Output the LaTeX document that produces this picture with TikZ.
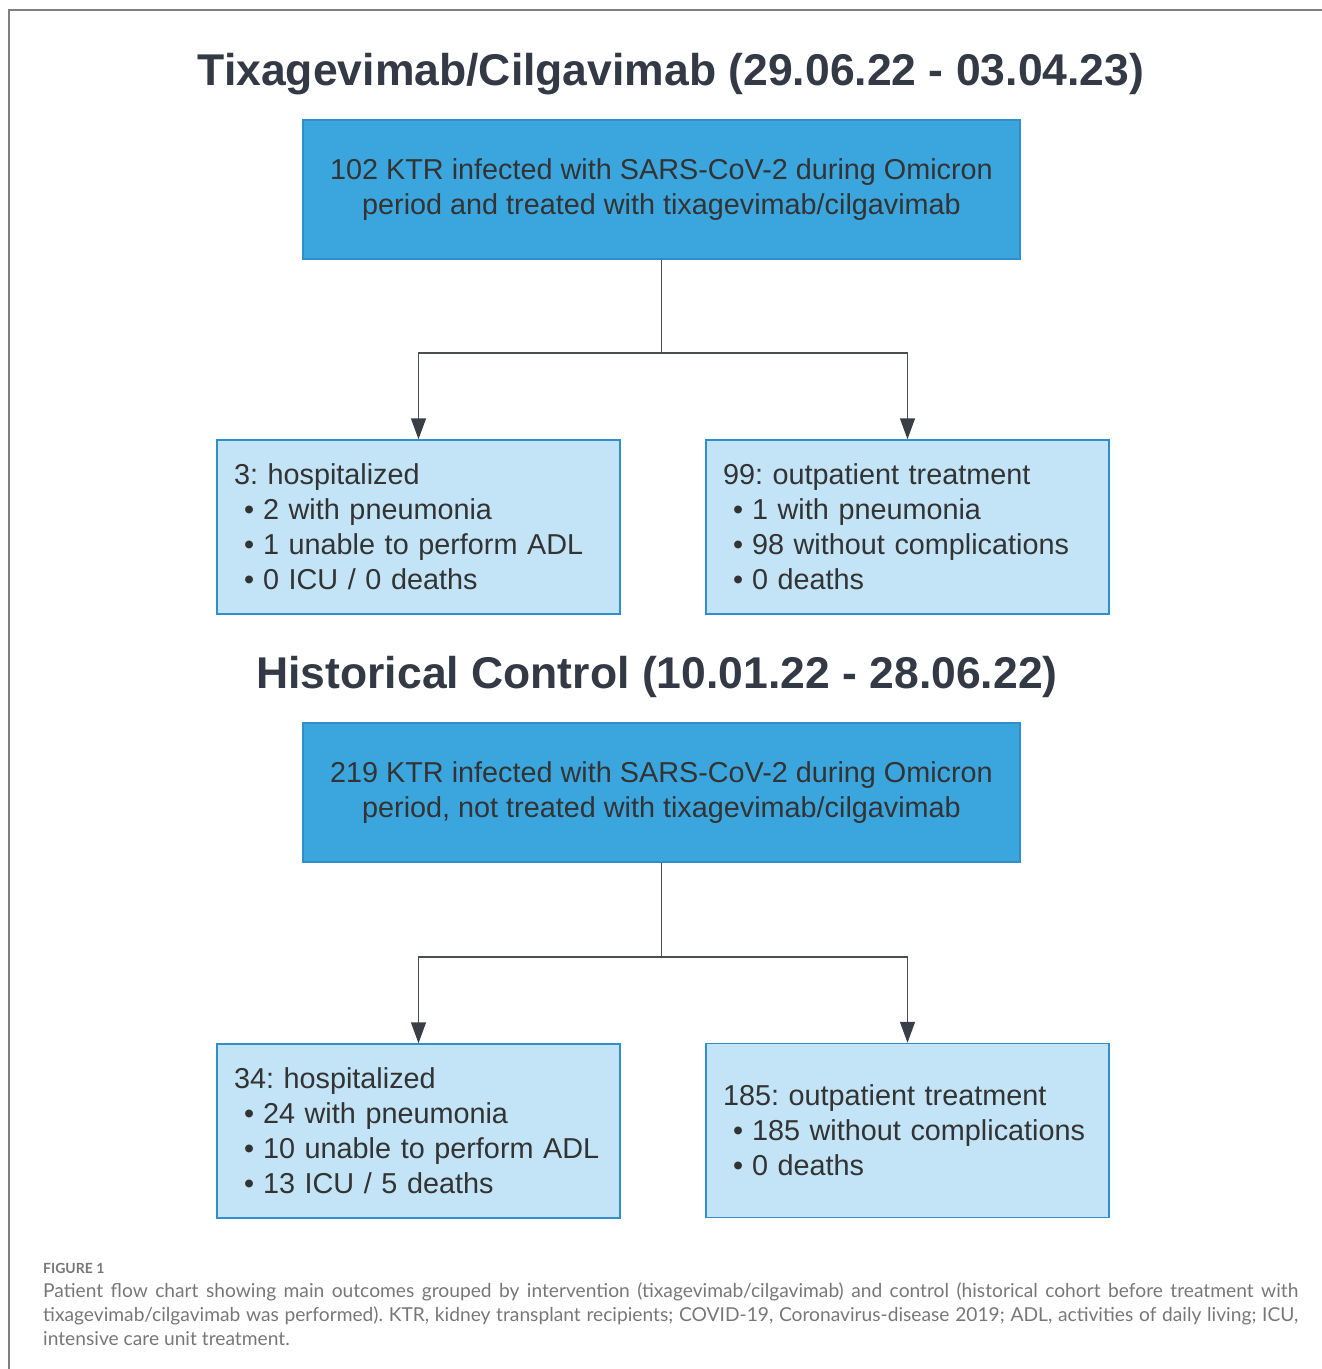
\documentclass[tikz,border=0pt]{standalone}
\usepackage{fontspec}
\setmainfont{Liberation Sans}
\newfontfamily\capfont{Lato}
\usetikzlibrary{arrows.meta,positioning}
\frenchspacing
\definecolor{titlegray}{HTML}{333A45}
\definecolor{textgray}{HTML}{333333}
\definecolor{darkblue}{HTML}{3BA6DE}
\definecolor{lightblue}{HTML}{C2E4F6}
\definecolor{boxline}{HTML}{2F8ECB}
\definecolor{linegray}{HTML}{4A4D52}
\definecolor{tipgray}{HTML}{3A3F47}
\definecolor{capgray}{HTML}{777777}
\newcommand{\listpoint}{\hspace*{10pt}\textbullet\hspace{9pt}}
\begin{document}
\begin{tikzpicture}[x=1pt,y=-1pt,
    heading/.style={font=\fontsize{44.5}{50}\selectfont\bfseries, text=titlegray, inner sep=0pt, anchor=base},
    cohort/.style={draw=boxline, line width=1.5pt, fill=darkblue, text=textgray, minimum width=717pt, minimum height=139pt, align=center, font=\fontsize{28.8}{35}\selectfont},
    outcome/.style={draw=boxline, line width=1.5pt, fill=lightblue, text=textgray, minimum width=403pt, minimum height=174pt, text width=369pt, inner xsep=17pt, align=left, font=\fontsize{28.8}{35}\selectfont},
    link/.style={linegray, line width=1.5pt},
    flow/.style={link, -{Triangle[length=21pt,width=15pt,color=tipgray]}}]
  \useasboundingbox (0,0) rectangle (1322,1369);
  \draw [gray, line width=1.5pt] (9,1369) -- (9,10) -- (1322,10);
  % intervention group
  \node [heading] (headtix) at (671,85) {Tixagevimab/Cilgavimab (29.06.22 - 03.04.23)};
  \node [cohort] (tix) at (661.5,189.5) {102 KTR infected with SARS-CoV-2 during Omicron\\period and treated with tixagevimab/cilgavimab};
  \node [outcome] (tixhosp) at (418.5,527) {3: hospitalized\\\listpoint 2 with pneumonia\\\listpoint 1 unable to perform ADL\\\listpoint 0 ICU / 0 deaths};
  \node [outcome] (tixout) at (907.5,527) {99: outpatient treatment\\\listpoint 1 with pneumonia\\\listpoint 98 without complications\\\listpoint 0 deaths};
  \draw [link] (tix.south) -- ++(0,93) coordinate (tixsplit);
  \draw [flow] (tixsplit) -| (tixhosp.north);
  \draw [flow] (tixsplit) -| (tixout.north);
  % historical control
  \node [heading] (headhist) at (657,688) {Historical Control (10.01.22 - 28.06.22)};
  \node [cohort] (hist) at (661.5,792.5) {219 KTR infected with SARS-CoV-2 during Omicron\\period, not treated with tixagevimab/cilgavimab};
  \node [outcome] (histhosp) at (418.5,1131) {34: hospitalized\\\listpoint 24 with pneumonia\\\listpoint 10 unable to perform ADL\\\listpoint 13 ICU / 5 deaths};
  \node [outcome] (histout) at (907.5,1130.5) {185: outpatient treatment\\\listpoint 185 without complications\\\listpoint 0 deaths};
  \draw [link] (hist.south) -- ++(0,94) coordinate (histsplit);
  \draw [flow] (histsplit) -| (histhosp.north);
  \draw [flow] (histsplit) -| (histout.north);
  % caption
  \node [anchor=base west, inner sep=0pt, text=capgray, font=\capfont\fontsize{14}{16}\selectfont\bfseries] (figlabel) at (43,1273) {FIGURE 1};
  \node [anchor=north west, inner sep=0pt, text width=1255pt, align=justify, text=capgray, font=\capfont\fontsize{19.2}{24}\selectfont] (caption) at (43,1282) {Patient flow chart showing main outcomes grouped by intervention (tixagevimab/cilgavimab) and control (historical cohort before treatment with\linebreak tixagevimab/cilgavimab was performed). KTR, kidney transplant recipients; COVID-19, Coronavirus-disease 2019; ADL, activities of daily living; ICU,\linebreak intensive care unit treatment.};
\end{tikzpicture}
\end{document}
